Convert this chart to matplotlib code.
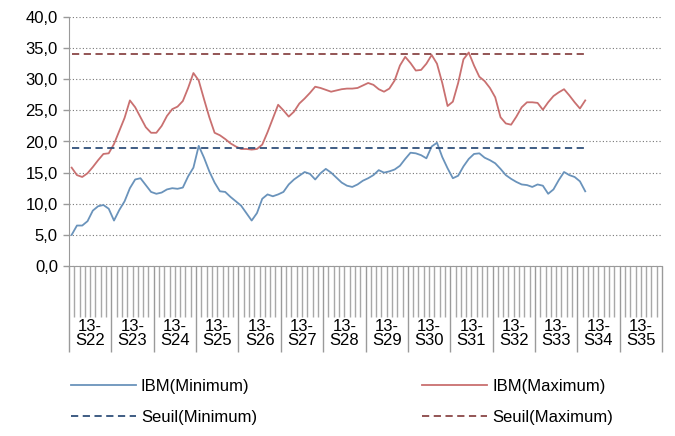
import matplotlib.pyplot as plt
import numpy as np

plt.rcParams['font.family'] = ['Liberation Sans', 'DejaVu Sans']

#################################
## data
#################################
year = '13-'
weeks = ['S22', 'S23', 'S24', 'S25', 'S26', 'S27', 'S28',
         'S29', 'S30', 'S31', 'S32', 'S33', 'S34', 'S35']
days_per_week = 8

ibm_min = [5.0, 6.5, 6.5, 7.2, 8.9, 9.6, 9.8, 9.2, 7.3, 9.0,
           10.4, 12.5, 13.9, 14.1, 13.0, 11.9, 11.6, 11.8, 12.3, 12.5,
           12.4, 12.6, 14.4, 15.8, 19.3, 17.4, 15.2, 13.4, 12.0, 11.9,
           11.1, 10.4, 9.7, 8.5, 7.3, 8.5, 10.8, 11.5, 11.2, 11.5,
           11.9, 13.1, 13.9, 14.5, 15.1, 14.8, 13.9, 14.9, 15.6, 15.0,
           14.2, 13.4, 12.9, 12.7, 13.1, 13.7, 14.1, 14.6, 15.4, 15.0,
           15.2, 15.5, 16.1, 17.2, 18.2, 18.1, 17.8, 17.3, 19.2, 19.8,
           17.5, 15.7, 14.1, 14.5, 16.0, 17.2, 18.0, 18.1, 17.4, 17.0,
           16.5, 15.6, 14.6, 14.0, 13.5, 13.1, 13.0, 12.7, 13.1, 12.9,
           11.6, 12.3, 13.8, 15.1, 14.6, 14.3, 13.6, 12.0]

ibm_max = [15.8, 14.6, 14.3, 14.9, 15.9, 17.0, 18.0, 18.1, 19.6, 21.7,
           23.8, 26.6, 25.5, 23.9, 22.3, 21.4, 21.4, 22.5, 24.1, 25.2,
           25.6, 26.5, 28.6, 31.0, 29.8, 26.8, 23.9, 21.4, 21.0, 20.4,
           19.7, 19.2, 18.8, 18.8, 18.7, 18.8, 19.5, 21.5, 23.7, 25.9,
           25.0, 24.0, 24.8, 26.1, 26.9, 27.8, 28.8, 28.6, 28.3, 28.0,
           28.2, 28.4, 28.5, 28.5, 28.6, 29.0, 29.4, 29.1, 28.4, 28.0,
           28.5, 29.8, 32.2, 33.6, 32.6, 31.4, 31.5, 32.5, 33.9, 32.5,
           29.4, 25.7, 26.4, 29.4, 33.2, 34.3, 32.2, 30.4, 29.7, 28.6,
           27.1, 23.9, 22.9, 22.7, 24.0, 25.5, 26.3, 26.3, 26.2, 25.1,
           26.3, 27.3, 27.9, 28.4, 27.4, 26.3, 25.3, 26.6]

seuil_min = [19.0] * len(ibm_min)
seuil_max = [34.0] * len(ibm_max)

yticks = [0, 5, 10, 15, 20, 25, 30, 35, 40]

#################################
## chart
#################################
fig = plt.figure(figsize=(6.75, 4.36), dpi=100)
ax = fig.add_axes([69 / 675, 170 / 436, 593 / 675, 249 / 436])

x = np.arange(len(ibm_min))
l_min, = ax.plot(x, ibm_min, color='#6a93bb', lw=1.3)
l_max, = ax.plot(x, ibm_max, color='#c97070', lw=1.3)
s_min, = ax.plot(x, seuil_min, color='#2f4f7a', lw=1.3, ls=(0, (4, 2.5)))
s_max, = ax.plot(x, seuil_max, color='#8a4646', lw=1.3, ls=(0, (4, 2.5)))

n_cat = len(weeks) * days_per_week
ax.set_xlim(-0.5, n_cat - 0.5)
ax.set_ylim(0, 40)

# y axis
ax.set_yticks(yticks)
ax.set_yticklabels([f'{v:.1f}'.replace('.', ',') for v in yticks], fontsize=12)
ax.yaxis.grid(True, color='#777777', ls=(0, (1, 2)), lw=0.8)
ax.set_axisbelow(True)

# category axis: day ticks + week separators
ax.set_xticks(np.arange(-0.5, n_cat, days_per_week))
ax.set_xticks(np.arange(-0.5, n_cat, 1), minor=True)
ax.set_xticklabels([])
ax.tick_params(axis='x', which='major', length=62, width=1, color='#9a9a9a')
ax.tick_params(axis='x', which='minor', length=37, width=1, color='#a8a8a8')
ax.tick_params(axis='y', length=4, width=1, color='#9a9a9a', pad=4)

for i, w in enumerate(weeks):
    ax.annotate(f'{year}\n{w}', xy=(i * days_per_week + (days_per_week - 1) / 2, 0),
                xycoords=('data', 'axes fraction'), xytext=(0, -38),
                textcoords='offset points', ha='center', va='top',
                fontsize=12, linespacing=0.95)

for s in ['top', 'right']:
    ax.spines[s].set_visible(False)
for s in ['left', 'bottom']:
    ax.spines[s].set_color('#9a9a9a')

fig.legend([l_min, s_min, l_max, s_max],
           ['IBM(Minimum)', 'Seuil(Minimum)', 'IBM(Maximum)', 'Seuil(Maximum)'],
           ncol=2, loc='upper left', bbox_to_anchor=(71 / 675, 1 - 379 / 436),
           frameon=False, fontsize=12, handlelength=3.9, handletextpad=0.3,
           borderpad=0, borderaxespad=0, columnspacing=9.9, labelspacing=0.95)

fig.savefig('out.png', dpi=100)
